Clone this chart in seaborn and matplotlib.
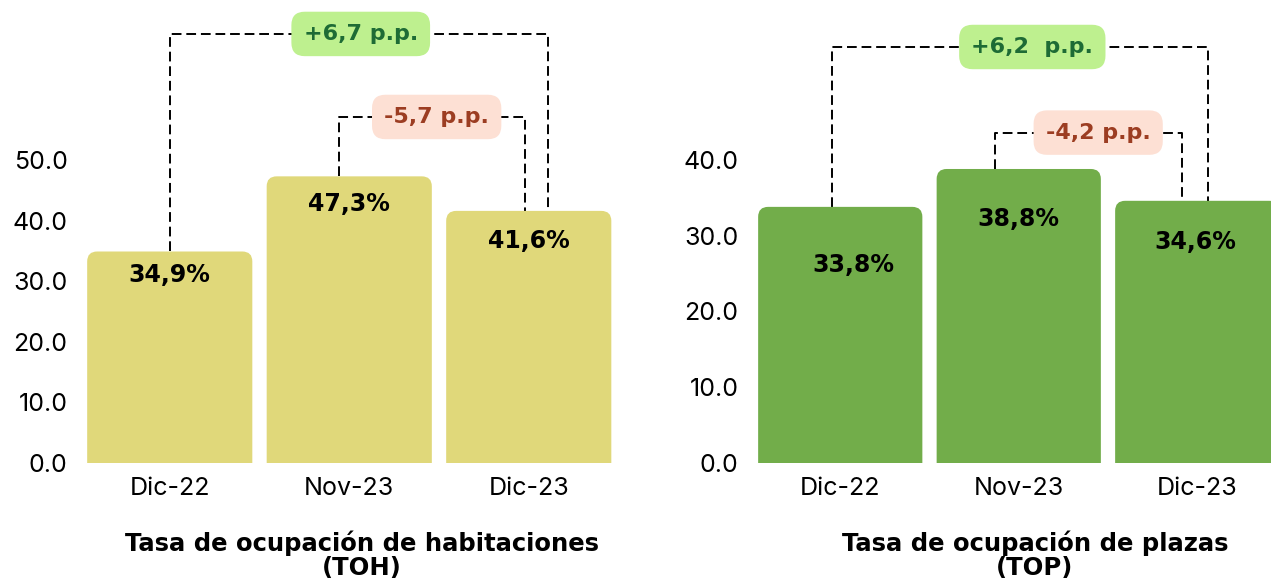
import matplotlib
matplotlib.use("Agg")
import matplotlib.pyplot as plt
from matplotlib.patches import PathPatch
from matplotlib.path import Path
import seaborn as sns

### Data
categories = ["Dic-22", "Nov-23", "Dic-23"]
toh_values = [34.9, 47.3, 41.6]
top_values = [33.8, 38.8, 34.6]
toh_labels = ["34,9%", "47,3%", "41,6%"]
top_labels = ["33,8%", "38,8%", "34,6%"]
toh_ticks = [0, 10, 20, 30, 40, 50]
top_ticks = [0, 10, 20, 30, 40]
toh_diffs = ["+6,7 p.p.", "-5,7 p.p."]
top_diffs = ["+6,2  p.p.", "-4,2 p.p."]
toh_title = "Tasa de ocupación de habitaciones\n(TOH)"
top_title = "Tasa de ocupación de plazas\n(TOP)"

sns.set_style("white")
plt.rcParams["font.family"] = ["Inter", "Liberation Sans", "DejaVu Sans"]
plt.rcParams["text.color"] = "black"
BOLD = ["DejaVu Sans"]

YELLOW = "#e0d87a"
GREEN = "#72ad4a"
UP_BG, UP_FG = "#bef08f", "#1e6b35"
DOWN_BG, DOWN_FG = "#fde0d4", "#9c3d22"

W, H = 1271, 582
fig = plt.figure(figsize=(W / 100, H / 100), dpi=100)
ax1 = fig.add_axes([80 / W, 119 / H, 538.5 / W, 463 / H])
ax2 = fig.add_axes([751 / W, 119 / H, 535.5 / W, 463 / H])


def round_bars(ax, color, r_px=10):
    # swap square bars for bars with rounded top corners only
    x0, x1 = ax.get_xlim()
    y0, y1 = ax.get_ylim()
    bb = ax.get_window_extent()
    rx = r_px * (x1 - x0) / bb.width
    ry = r_px * (y1 - y0) / bb.height
    for p in list(ax.patches):
        x, y, w, h = p.get_x(), p.get_y(), p.get_width(), p.get_height()
        p.remove()
        top = y + h
        verts = [(x, y), (x, top - ry), (x, top), (x + rx, top),
                 (x + w - rx, top), (x + w, top), (x + w, top - ry),
                 (x + w, y), (x, y)]
        codes = [Path.MOVETO, Path.LINETO, Path.CURVE3, Path.CURVE3,
                 Path.LINETO, Path.CURVE3, Path.CURVE3,
                 Path.LINETO, Path.CLOSEPOLY]
        ax.add_patch(PathPatch(Path(verts, codes), fc=color, ec="none", zorder=2))


def bracket(ax, xa, xb, va, vb, yb, text, bg, fg, xt):
    ax.plot([xa, xa, xb, xb], [va, yb, yb, vb], color="black", lw=1.4,
            ls=(0, (5, 2.5)), zorder=1, clip_on=False)
    ax.text(xt, yb, text, ha="center", va="center", fontsize=16, fontweight="bold",
            family=BOLD, color=fg, zorder=4,
            bbox=dict(boxstyle="round,pad=0.55,rounding_size=0.6", fc=bg, ec="none"))


def panel(ax, values, labels, color, ymax, ticks, label_offsets):
    sns.barplot(x=categories, y=values, color=color, saturation=1, width=0.92, ax=ax)
    ax.set_xlim(-0.5, 2.5)
    ax.set_ylim(0, ymax)
    ax.set_yticks(ticks)
    ax.set_yticklabels([f"{t:.1f}" for t in ticks])
    ax.tick_params(axis="y", labelsize=18, length=0, pad=9, colors="black")
    ax.tick_params(axis="x", labelsize=18, length=0, pad=10, colors="black")
    sns.despine(ax=ax, left=True, bottom=True)
    ax.set_xlabel("")
    ax.set_ylabel("")
    round_bars(ax, color)
    for i, (v, lab) in enumerate(zip(values, labels)):
        dx, dy = label_offsets[i]
        ax.annotate(lab, xy=(i, v), xytext=(dx, -dy), textcoords="offset pixels",
                    ha="center", va="center", fontsize=17, fontweight="bold",
                    family=BOLD, color="black", zorder=3)


panel(ax1, toh_values, toh_labels, YELLOW, 76.4, toh_ticks, [(0, 24), (0, 28), (0, 30)])
panel(ax2, top_values, top_labels, GREEN, 61.1, top_ticks, [(13, 58), (0, 50), (-2, 41)])

bracket(ax1, 0.0, 2.11, toh_values[0], toh_values[2], 70.8, toh_diffs[0], UP_BG, UP_FG, 1.064)
bracket(ax1, 0.945, 1.98, toh_values[1], toh_values[2], 57.1, toh_diffs[1], DOWN_BG, DOWN_FG, 1.487)
bracket(ax2, -0.045, 2.062, top_values[0], top_values[2], 54.9, top_diffs[0], UP_BG, UP_FG, 1.076)
bracket(ax2, 0.868, 1.916, top_values[1], top_values[2], 43.6, top_diffs[1], DOWN_BG, DOWN_FG, 1.445)

fig.text(362 / W, 1 - 555 / H, toh_title, ha="center", va="center", fontsize=17.5,
         fontweight="bold", family=BOLD, linespacing=1.0, color="black")
fig.text(1035 / W, 1 - 555 / H, top_title, ha="center", va="center", fontsize=17.5,
         fontweight="bold", family=BOLD, linespacing=1.0, color="black")

fig.savefig("out.png", dpi=100)
